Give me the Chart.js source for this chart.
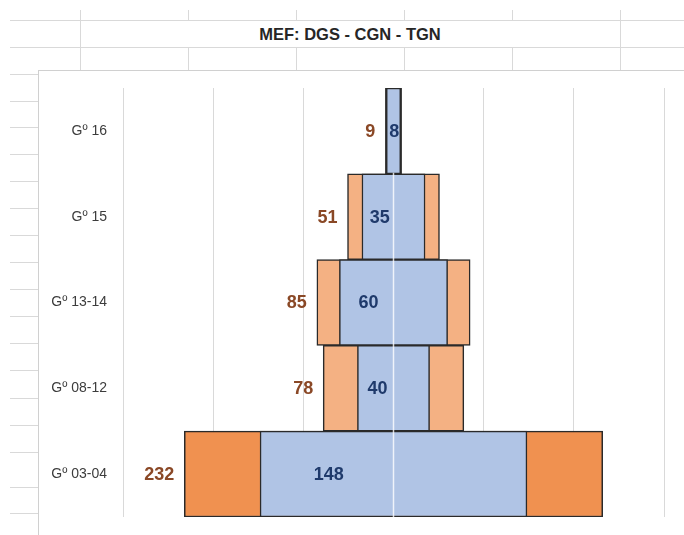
<!DOCTYPE html>
<html>
<head>
<meta charset="utf-8">
<script src="https://cdn.jsdelivr.net/npm/chart.js@4.4.1/dist/chart.umd.min.js"></script>
<style>
  html, body { margin: 0; padding: 0; background: #ffffff; }
  body { width: 684px; height: 535px; position: relative; overflow: hidden; font-family: "Liberation Sans", Arial, sans-serif; }
  .ln { position: absolute; background: #d9d9d9; }
  #title { position: absolute; left: 80px; width: 540px; top: 21px; height: 26px; line-height: 26px;
           text-align: center; font-weight: bold; font-size: 16.5px; color: #262626; }
  #box { position: absolute; left: 38px; top: 70px; width: 645px; height: 465px;
         border-left: 1px solid #d0d0d0; border-top: 1px solid #d0d0d0; border-right: 1px solid #e2e2e2; background: #fff; }
  #box canvas { position: absolute; left: 0; top: 0; }
</style>
</head>
<body>
<div id="sheet"></div>
<div id="title">MEF: DGS - CGN - TGN</div>
<div id="box"><canvas id="c" width="645" height="464"></canvas></div>
<script>
// ---- data ----
const categories = ['Gº 16', 'Gº 15', 'Gº 13-14', 'Gº 08-12', 'Gº 03-04'];
const outerValues = [9, 51, 85, 78, 232];   // orange series
const innerValues = [8, 35, 60, 40, 148];   // blue series
const axisMin = -150, axisMax = 150, axisStep = 50;

// ---- spreadsheet background lines ----
(function () {
  const sheet = document.getElementById('sheet');
  function add(x, y, w, h) {
    const d = document.createElement('div');
    d.className = 'ln';
    d.style.left = x + 'px'; d.style.top = y + 'px';
    d.style.width = w + 'px'; d.style.height = h + 'px';
    sheet.appendChild(d);
  }
  add(10, 20, 674, 1);
  add(10, 47, 674, 1);
  add(80, 10, 1, 60);
  add(620, 10, 1, 60);
  [188, 296, 404, 512].forEach(x => { add(x, 10, 1, 10); add(x, 47, 1, 23); });
  [74, 101, 127, 154, 181, 208, 235, 262, 289, 316, 343, 370, 398, 425, 452, 487, 513]
    .forEach(y => add(10, y, 28, 1));
})();

const outerColors = outerValues.map((v, i) => i === outerValues.length - 1 ? '#F09150' : '#F4B183');

const centerLine = {
  id: 'centerLine',
  afterDatasetsDraw(chart) {
    const x = chart.scales.x, y = chart.scales.y, ctx = chart.ctx;
    const px = x.getPixelForValue(0);
    const top = (y.getPixelForValue(0) + y.getPixelForValue(1)) / 2;
    ctx.save();
    ctx.strokeStyle = 'rgba(255,255,255,0.8)';
    ctx.lineWidth = 1.5;
    ctx.beginPath();
    ctx.moveTo(px, top - 1);
    ctx.lineTo(px, chart.chartArea.bottom + 8);
    ctx.stroke();
    ctx.restore();
  }
};

const valueLabels = {
  id: 'valueLabels',
  afterDatasetsDraw(chart) {
    const x = chart.scales.x, y = chart.scales.y, ctx = chart.ctx;
    ctx.save();
    ctx.font = 'bold 18px "Liberation Sans", Arial, sans-serif';
    ctx.textBaseline = 'middle';
    categories.forEach((c, i) => {
      const cy = y.getPixelForValue(i) + 1;
      ctx.fillStyle = '#8A4826';
      ctx.textAlign = 'right';
      ctx.fillText(String(outerValues[i]), x.getPixelForValue(-outerValues[i] / 2) - 10, cy);
      ctx.fillStyle = '#1F3A6B';
      ctx.textAlign = 'center';
      const txt = String(innerValues[i]);
      const w = ctx.measureText(txt).width;
      const lx = Math.max(x.getPixelForValue(-innerValues[i] / 4) + 2,
                          x.getPixelForValue(-innerValues[i] / 2) + w / 2 + 3);
      ctx.fillText(txt, lx, cy);
    });
    ctx.restore();
  }
};

new Chart(document.getElementById('c'), {
  type: 'bar',
  data: {
    labels: categories,
    datasets: [
      {
        label: 'Interior',
        data: innerValues.map(v => [-v / 2, v / 2]),
        backgroundColor: '#B0C4E5',
        borderColor: '#2a2a2a',
        borderWidth: 1.5,
        borderSkipped: false,
        order: 1
      },
      {
        label: 'Total',
        data: outerValues.map(v => [-v / 2, v / 2]),
        backgroundColor: outerColors,
        borderColor: '#2a2a2a',
        borderWidth: 1.5,
        borderSkipped: false,
        order: 2
      }
    ]
  },
  options: {
    responsive: false,
    animation: false,
    indexAxis: 'y',
    grouped: false,
    barPercentage: 1,
    categoryPercentage: 1,
    layout: { padding: { left: 0, right: 20, top: 17, bottom: 18 } },
    plugins: { legend: { display: false }, tooltip: { enabled: false }, title: { display: false } },
    datasets: { bar: { grouped: false, barPercentage: 1, categoryPercentage: 1 } },
    scales: {
      x: {
        min: axisMin, max: axisMax,
        ticks: { display: false, stepSize: axisStep },
        grid: { color: '#d9d9d9', lineWidth: 1, drawTicks: false },
        border: { display: false },
        afterFit(s) { s.height = 0; s.paddingLeft = 0; s.paddingRight = 0; }
      },
      y: {
        grid: { display: false, drawTicks: false },
        border: { display: false },
        ticks: { color: '#3c3c3c', font: { family: '"Liberation Sans", Arial, sans-serif', size: 14 }, padding: 16 },
        afterFit(s) { s.width = 84; s.paddingTop = 0; s.paddingBottom = 0; }
      }
    }
  },
  plugins: [centerLine, valueLabels]
});
</script>
</body>
</html>
